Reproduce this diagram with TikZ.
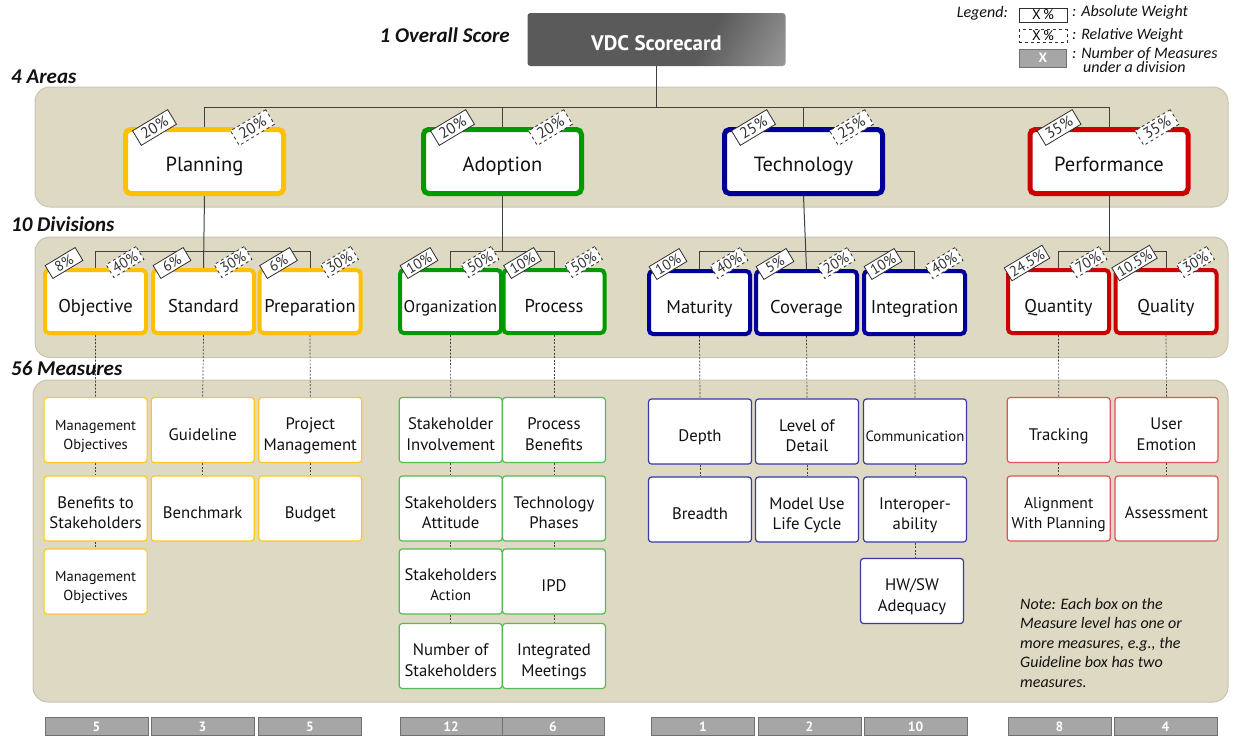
\documentclass[tikz,border=0pt]{standalone}
\usepackage{fontspec}
\setmainfont{PT Sans}
\newfontfamily\lblfont{Carlito}
\usetikzlibrary{calc}
\pgfdeclarelayer{back}
\pgfdeclarelayer{lines}
\pgfsetlayers{back,lines,main}
\definecolor{bandc}{HTML}{DDD9C3}
\definecolor{bandb}{HTML}{C8C4B2}
\definecolor{cY}{HTML}{FFC000}
\definecolor{cG}{HTML}{009900}
\definecolor{cB}{HTML}{000099}
\definecolor{cR}{HTML}{CC0000}
\definecolor{mY}{HTML}{FFC820}
\definecolor{mG}{HTML}{55BB55}
\definecolor{mB}{HTML}{3838A8}
\definecolor{mR}{HTML}{DD5555}
\definecolor{lineC}{HTML}{404040}
\definecolor{tagC}{HTML}{303030}
\definecolor{tagT}{HTML}{333333}
\definecolor{cntF}{HTML}{A6A6A6}
\definecolor{cntD}{HTML}{707070}
\definecolor{vdcC}{HTML}{5A5A5A}
\definecolor{txtC}{HTML}{111111}
\pgfdeclarehorizontalshading{vdcshade}{100bp}{color(0bp)=(vdcC); color(62bp)=(vdcC); color(100bp)=(vdcC!35!white)}
\tikzset{
  conn/.style={draw=lineC, line width=1},
  mconn/.style={draw=lineC, line width=0.7, dash pattern=on 2pt off 1.5pt},
  band/.style={fill=bandc, draw=bandb, line width=1, rounded corners=15},
  area/.style={draw=#1, line width=5, fill=white, rounded corners=5, minimum width=158, minimum height=64, inner sep=0, text=txtC, text height=24, text depth=4, font=\fontsize{20.5}{22}\selectfont},
  divn/.style={draw=#1, line width=4, fill=white, rounded corners=4, minimum width=101, minimum height=63, inner sep=0, text=txtC, text height=25, text depth=4, font=\fontsize{18.5}{20}\selectfont},
  meas/.style={draw=#1, line width=1.2, fill=white, rounded corners=3, minimum width=103, minimum height=65, inner sep=0, align=center, text=txtC, text height=24, text depth=4, font=\fontsize{16.7}{20.5}\selectfont},
  two/.style={text height=44, text depth=4},
  twosm/.style={text height=41.5, text depth=3.5},
  abst/.style={draw=tagC, fill=white, line width=0.8, rotate=31, inner xsep=3, inner ysep=1, minimum width=41, minimum height=17, text=tagT, font=\fontsize{15.5}{15.5}\selectfont},
  relt/.style={abst, dashed},
  dabst/.style={abst, minimum width=35, minimum height=15, font=\fontsize{14.5}{14.5}\selectfont},
  drelt/.style={dabst, dashed},
  cnt/.style={fill=cntF, draw=cntD, line width=0.8, minimum width=103, minimum height=17.5, inner sep=0, text=white, font=\bfseries\fontsize{13.5}{13.5}\selectfont},
  lab/.style={font=\lblfont\bfseries\itshape\fontsize{21}{22}\selectfont, anchor=west, inner sep=0, text=txtC},
  leg/.style={font=\lblfont\itshape\fontsize{16}{16}\selectfont, inner sep=0, text=txtC},
}
\begin{document}
\begin{tikzpicture}[x=1pt,y=-1pt]
\useasboundingbox (0,0) rectangle (1235,740);
% bands
\begin{pgfonlayer}{back}
\path[band] (35,87) rectangle (1228,207);
\path[band] (35,237) rectangle (1228,357.5);
\path[band] (33,380) rectangle (1228,702);
\end{pgfonlayer}
% level labels
\node[lab, anchor=east] (lOverall) at (510,35) {1 Overall Score};
\node[lab] (lAreas) at (11,77) {4 Areas};
\node[lab] (lDiv) at (11,224) {10 Divisions};
\node[lab] (lMeas) at (11,368) {56 Measures};
% legend
\node[leg, anchor=east] (lgT) at (1008,13) {Legend:};
\node[draw=tagC, line width=0.8, fill=white, minimum width=48, minimum height=14, inner sep=0, font=\fontsize{14}{14}\selectfont] (lgA) at (1043,15) {X\,\%};
\node[draw=tagC, line width=0.8, dashed, fill=white, minimum width=48, minimum height=13, inner sep=0, font=\fontsize{14}{14}\selectfont] (lgR) at (1043,36) {X\,\%};
\node[cnt, minimum width=47, minimum height=18] (lgN) at (1043,58) {X};
\node[leg, anchor=west] (lgAt) at (1072,12) {: Absolute Weight};
\node[leg, anchor=west] (lgRt) at (1072,35) {: Relative Weight};
\node[leg, anchor=west] (lgNt) at (1072,54) {: Number of Measures};
\node[leg, anchor=west] (lgNt2) at (1083,67) {under a division};
% top
\node[shading=vdcshade, shading angle=-30, rounded corners=3, minimum width=258, minimum height=53, inner sep=0, text=white, text height=26, text depth=4, font=\bfseries\fontsize{21}{22}\selectfont] (vdc) at (656.5,39.5) {VDC Scorecard};
% areas
\node[area=cY] (plan) at (204.5,161.5) {Planning};
\node[area=cG] (adopt) at (502.5,161.5) {Adoption};
\node[area=cB] (tech) at (803.5,161.5) {Technology};
\node[area=cR] (perf) at (1109,161.5) {Performance};
% divisions
\node[divn=cY] (obj) at (95.5,301.5) {Objective};
\node[divn=cY] (std) at (203.5,301.5) {Standard};
\node[divn=cY] (prep) at (310,301.5) {Preparation};
\node[divn=cG, font=\fontsize{17}{20}\selectfont] (org) at (450.5,301.5) {Organization};
\node[divn=cG] (proc) at (554,301.5) {Process};
\node[divn=cB] (mat) at (699.5,302.5) {Maturity};
\node[divn=cB] (cov) at (806.5,302.5) {Coverage};
\node[divn=cB] (integ) at (914.5,302.5) {Integration};
\node[divn=cR] (quan) at (1058.5,301.5) {Quantity};
\node[divn=cR] (qual) at (1166,301.5) {Quality};
% measures
\node[meas=mY, twosm, font=\fontsize{14.5}{19}\selectfont] (y11) at (95.6,430) {Management\\Objectives};
\node[meas=mY, two] (y12) at (95.6,508.5) {Benefits to\\Stakeholders};
\node[meas=mY, twosm, font=\fontsize{14.5}{19}\selectfont] (y13) at (95.6,581.5) {Management\\Objectives};
\node[meas=mY] (y21) at (202.7,430) {Guideline};
\node[meas=mY] (y22) at (202.7,508.5) {Benchmark};
\node[meas=mY, two] (y31) at (310.3,430) {Project\\Management};
\node[meas=mY] (y32) at (310.3,508.5) {Budget};
\node[meas=mG, two] (g11) at (450.7,430) {Stakeholder\\Involvement};
\node[meas=mG, two] (g12) at (450.7,508.5) {Stakeholders\\Attitude};
\node[meas=mG, text height=41, text depth=4, font=\fontsize{16.7}{19.5}\selectfont] (g13) at (450.7,581.5) {Stakeholders\\\fontsize{15}{19.5}\selectfont Action};
\node[meas=mG, two] (g14) at (450.7,656) {Number of\\Stakeholders};
\node[meas=mG, two] (g21) at (554,430) {Process\\Benefits};
\node[meas=mG, two] (g22) at (554,508.5) {Technology\\Phases};
\node[meas=mG] (g23) at (554,581.5) {IPD};
\node[meas=mG, two] (g24) at (554,656) {Integrated\\Meetings};
\node[meas=mB] (b11) at (700,431.5) {Depth};
\node[meas=mB] (b12) at (700,509.5) {Breadth};
\node[meas=mB, two] (b21) at (807,431.5) {Level of\\Detail};
\node[meas=mB, two] (b22) at (807,509.5) {Model Use\\Life Cycle};
\node[meas=mB, text height=22.5, text depth=3.5, font=\fontsize{14.8}{19}\selectfont] (b31) at (915,431.5) {Communication};
\node[meas=mB, two] (b32) at (915,509.5) {Interoper-\\ability};
\node[meas=mB, two] (b33) at (912,591) {HW/SW\\Adequacy};
\node[meas=mR] (r11) at (1058.7,430) {Tracking};
\node[meas=mR, two, font=\fontsize{15.6}{20.5}\selectfont] (r12) at (1058.7,508.5) {Alignment\\With Planning};
\node[meas=mR, two] (r21) at (1166.5,430) {User\\Emotion};
\node[meas=mR] (r22) at (1166.5,508.5) {Assessment};
% note
\node[font=\lblfont\itshape\fontsize{16}{19.5}\selectfont, align=left, anchor=north west, inner sep=0, text=txtC] (note) at (1020,598) {Note: Each box on the\\Measure level has one or\\more measures, e.g., the\\Guideline box has two\\measures.};
% counts
\node[cnt] (n1) at (96.5,726.5) {5};
\node[cnt] (n2) at (202.5,726.5) {3};
\node[cnt] (n3) at (310,726.5) {5};
\node[cnt, minimum width=102] (n4) at (451,726.5) {12};
\node[cnt, minimum width=102] (n5) at (553,726.5) {6};
\node[cnt] (n6) at (703,726.5) {1};
\node[cnt] (n7) at (809.5,726.5) {2};
\node[cnt] (n8) at (915.5,726.5) {10};
\node[cnt] (n9) at (1059.5,726.5) {8};
\node[cnt] (n10) at (1165.5,726.5) {4};
% weight tags: areas
\foreach \n/\a/\r in {plan/20/20, adopt/20/20, tech/25/25, perf/35/35}{
  \node[abst] (\n A) at ($(\n.north west)+(31.5,0.5)$) {\a\%};
  \node[relt] (\n R) at ($(\n.north east)+(-33.5,0.5)$) {\r\%};
}
% weight tags: divisions
\foreach \n/\a/\r in {obj/8/40, std/6/30, prep/6/30, org/10/50, proc/10/50, mat/10/40, cov/5/20, integ/10/40, quan/24.5/70, qual/10.5/30}{
  \node[dabst] (\n A) at ($(\n.north west)+(21,-5)$) {\a\%};
  \node[drelt] (\n R) at ($(\n.north east)+(-23,-6)$) {\r\%};
}
% connectors
\coordinate (barA) at (0,107);
\coordinate (barD) at (0,251);
\begin{pgfonlayer}{lines}
\draw[conn] (vdc.south) -- (vdc.south |- barA);
\draw[conn] (plan.north) -- (plan.north |- barA) -- (perf.north |- barA) -- (perf.north);
\draw[conn] (adopt.north |- barA) -- (adopt.north);
\draw[conn] (tech.north |- barA) -- (tech.north);
% divisions
\draw[conn] (plan.south) -- (std.north);
\draw[conn] (obj.north) -- (obj.north |- barD) -- (prep.north |- barD) -- (prep.north);
\draw[conn] (adopt.south) -- (adopt.south |- barD);
\draw[conn] (org.north) -- (org.north |- barD) -- (proc.north |- barD) -- (proc.north);
\draw[conn] (tech.south) -- (cov.north);
\draw[conn] (mat.north) -- (mat.north |- barD) -- (integ.north |- barD) -- (integ.north);
\draw[conn] (perf.south) -- (perf.south |- barD);
\draw[conn] (quan.north) -- (quan.north |- barD) -- (qual.north |- barD) -- (qual.north);
% measures
\draw[mconn] (obj.south) -- (y11.north);
\draw[mconn] (y11.south) -- (y12.north);
\draw[mconn] (y12.south) -- (y13.north);
\draw[mconn] (std.south) -- (y21.north);
\draw[mconn] (y21.south) -- (y22.north);
\draw[mconn] (prep.south) -- (y31.north);
\draw[mconn] (y31.south) -- (y32.north);
\draw[mconn] (org.south) -- (g11.north);
\draw[mconn] (g11.south) -- (g12.north);
\draw[mconn] (g12.south) -- (g13.north);
\draw[mconn] (g13.south) -- (g14.north);
\draw[mconn] (proc.south) -- (g21.north);
\draw[mconn] (g21.south) -- (g22.north);
\draw[mconn] (g22.south) -- (g23.north);
\draw[mconn] (g23.south) -- (g24.north);
\draw[mconn] (mat.south) -- (b11.north);
\draw[mconn] (b11.south) -- (b12.north);
\draw[mconn] (cov.south) -- (b21.north);
\draw[mconn] (b21.south) -- (b22.north);
\draw[mconn] (integ.south) -- (b31.north);
\draw[mconn] (b31.south) -- (b32.north);
\draw[mconn] (b32.south) -- (b32.south |- b33.north);
\draw[mconn] (quan.south) -- (r11.north);
\draw[mconn] (r11.south) -- (r12.north);
\draw[mconn] (qual.south) -- (r21.north);
\draw[mconn] (r21.south) -- (r22.north);
\end{pgfonlayer}
\end{tikzpicture}
\end{document}
